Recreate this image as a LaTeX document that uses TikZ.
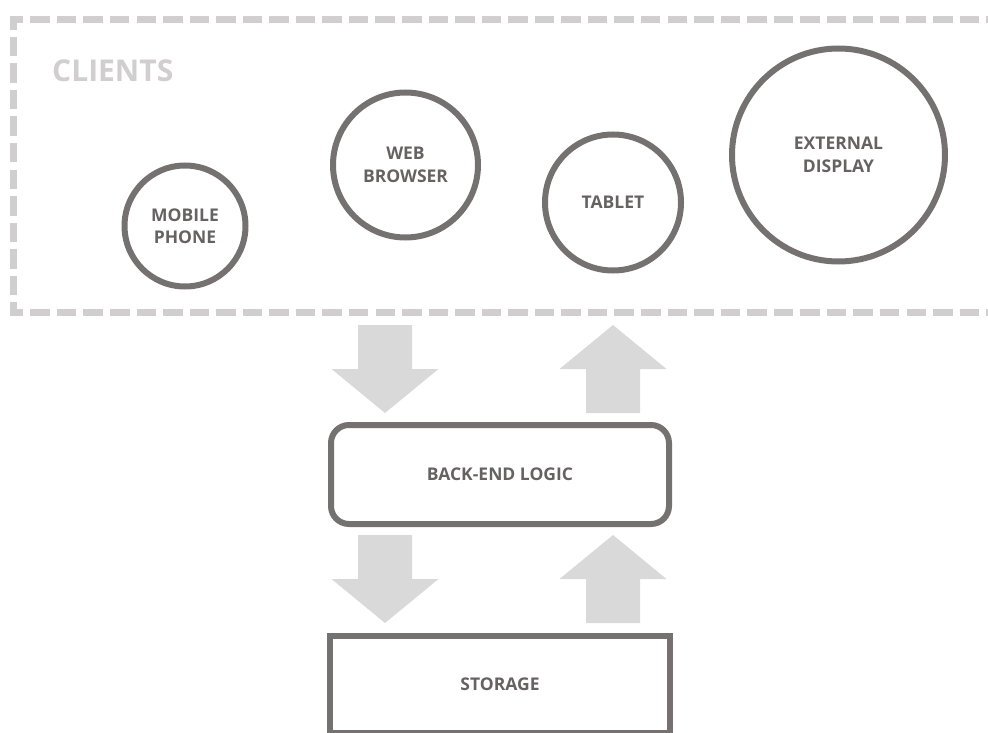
\documentclass[tikz,border=0pt]{standalone}
\usepackage{fontspec}
\setmainfont{Open Sans}
\usetikzlibrary{calc}

\definecolor{edgegray}{HTML}{767171}
\definecolor{labelgray}{HTML}{666262}
\definecolor{framegray}{HTML}{D0CECE}
\definecolor{arrowgray}{HTML}{D9D9D9}

% block arrows: head 107 wide x 44 long, shaft 54 wide x 44 long
\newcommand\blockdown[1]{%
  \fill[arrowgray] (#1) -- ++(-53.5,-44) -- ++(26.5,0) -- ++(0,-44)
    -- ++(54,0) -- ++(0,44) -- ++(26.5,0) -- cycle;}
\newcommand\blockup[1]{%
  \fill[arrowgray] (#1) -- ++(-53.5,44) -- ++(26.5,0) -- ++(0,44)
    -- ++(54,0) -- ++(0,-44) -- ++(26.5,0) -- cycle;}

\begin{document}
\begin{tikzpicture}[x=1pt,y=-1pt,
  lbl/.style={font=\fontsize{17.5}{22.5}\selectfont\bfseries, text=labelgray, align=center},
  client/.style={circle, draw=edgegray, line width=6pt, inner sep=0pt, lbl},
  tier/.style={rectangle, draw=edgegray, line width=6pt, inner sep=0pt,
    minimum width=338pt, lbl},
  frame/.style={draw=framegray, line width=7pt, dash pattern=on 19.5pt off 7.05pt,
    dash phase=5.6pt}
]
\useasboundingbox (0,0) rectangle (988,733);

% clients group frame, open past the right edge
\draw[frame] (1000,20) -- (13.5,20) -- (13.5,312) -- (1000,312);
\node[anchor=west, inner sep=0pt, text=framegray,
  font=\fontsize{30}{36}\selectfont\bfseries] (clients) at (52,71) {CLIENTS};

% client devices
\node[client, minimum size=121pt] (mobile)  at (185,226)   {MOBILE\\PHONE};
\node[client, minimum size=145pt] (browser) at (405.5,165) {WEB\\BROWSER};
\node[client, minimum size=136pt] (tablet)  at (613,202.5) {TABLET};
\node[client, minimum size=213pt] (display) at (838.5,155) {EXTERNAL\\DISPLAY};

% server side
\node[tier, rounded corners=18pt, minimum height=99pt] (backend) at (500,474.5) {BACK-END LOGIC};
\node[tier, minimum width=340pt, minimum height=97pt] (storage) at (500,684) {STORAGE};

% data flow between tiers
\coordinate (reqtip)   at (385,413);
\coordinate (resptip)  at (613,325);
\coordinate (readtip)  at (385,623);
\coordinate (writetip) at (613,535);
\blockdown{reqtip}
\blockup{resptip}
\blockdown{readtip}
\blockup{writetip}
\end{tikzpicture}
\end{document}
